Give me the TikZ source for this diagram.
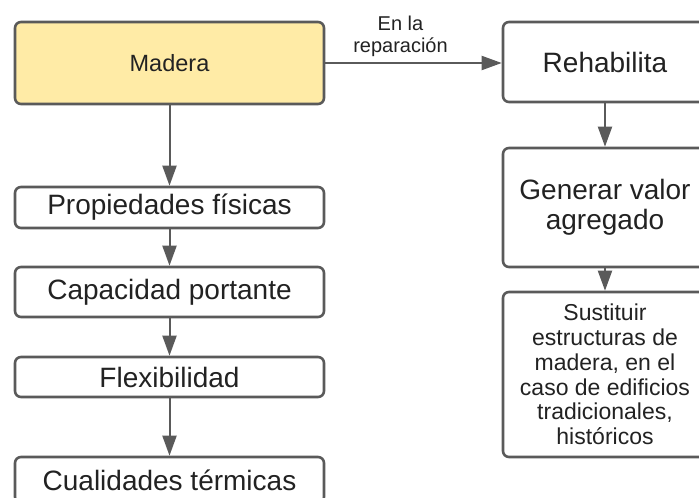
\documentclass[tikz,border=0pt]{standalone}
\usepackage{fontspec}
\setmainfont{Liberation Sans}
\usetikzlibrary{arrows.meta}
\definecolor{boxline}{HTML}{5A5A5A}
\definecolor{woodfill}{HTML}{FFEBA6}
\definecolor{txt}{HTML}{222222}
\begin{document}
\begin{tikzpicture}[x=1pt,y=-1pt,line join=round,>={Triangle[length=20pt,width=14pt]},
  every node/.style={inner sep=1pt,text=txt},
  box/.style={draw=boxline,line width=2.6pt,rounded corners=6pt,fill=white,align=center,
    font=\fontsize{28}{30}\selectfont},
  link/.style={->,draw=boxline,line width=2pt}]
  \def\lw{309}
  \def\rw{204}
  \useasboundingbox (0,0) rectangle (699,498);
  \clip (0,0) rectangle (699,498);
  % left column
  \node[box,fill=woodfill,minimum width=\lw,minimum height=82,font=\fontsize{23.5}{26}\selectfont] (madera) at (169.5,63) {Madera};
  \node[box,minimum width=\lw,minimum height=41] (fisicas) at (169.5,207.5) {Propiedades físicas};
  \node[box,minimum width=\lw,minimum height=50] (portante) at (169.5,292) {Capacidad portante};
  \node[box,minimum width=\lw,minimum height=40] (flexible) at (169.5,377) {Flexibilidad};
  \node[box,minimum width=\lw,minimum height=46] (termicas) at (169.5,480) {Cualidades térmicas};
  % right column
  \node[box,minimum width=\rw,minimum height=80] (rehab) at (605,62) {Rehabilita};
  \node[box,minimum width=\rw,minimum height=119] (valor) at (605,207.5) {Generar valor\\agregado};
  \node[box,minimum width=\rw,minimum height=165,font=\fontsize{23}{24.7}\selectfont] (sustituir) at (605,374.5)
    {Sustituir\\estructuras de\\madera, en el\\caso de edificios\\tradicionales,\\históricos};
  % connectors
  \draw[link] (madera) -- (fisicas);
  \draw[link] (fisicas) -- (portante);
  \draw[link] (portante) -- (flexible);
  \draw[link] (flexible) -- (termicas);
  \draw[link] (madera.east) -- (rehab.west |- madera.east)
    node[midway,above=4pt,xshift=-13pt,align=center,font=\fontsize{20}{22}\selectfont] (enla) {En la\\reparación};
  \draw[link] (rehab) -- (valor);
  \draw[link] (valor) -- (sustituir);
\end{tikzpicture}
\end{document}
